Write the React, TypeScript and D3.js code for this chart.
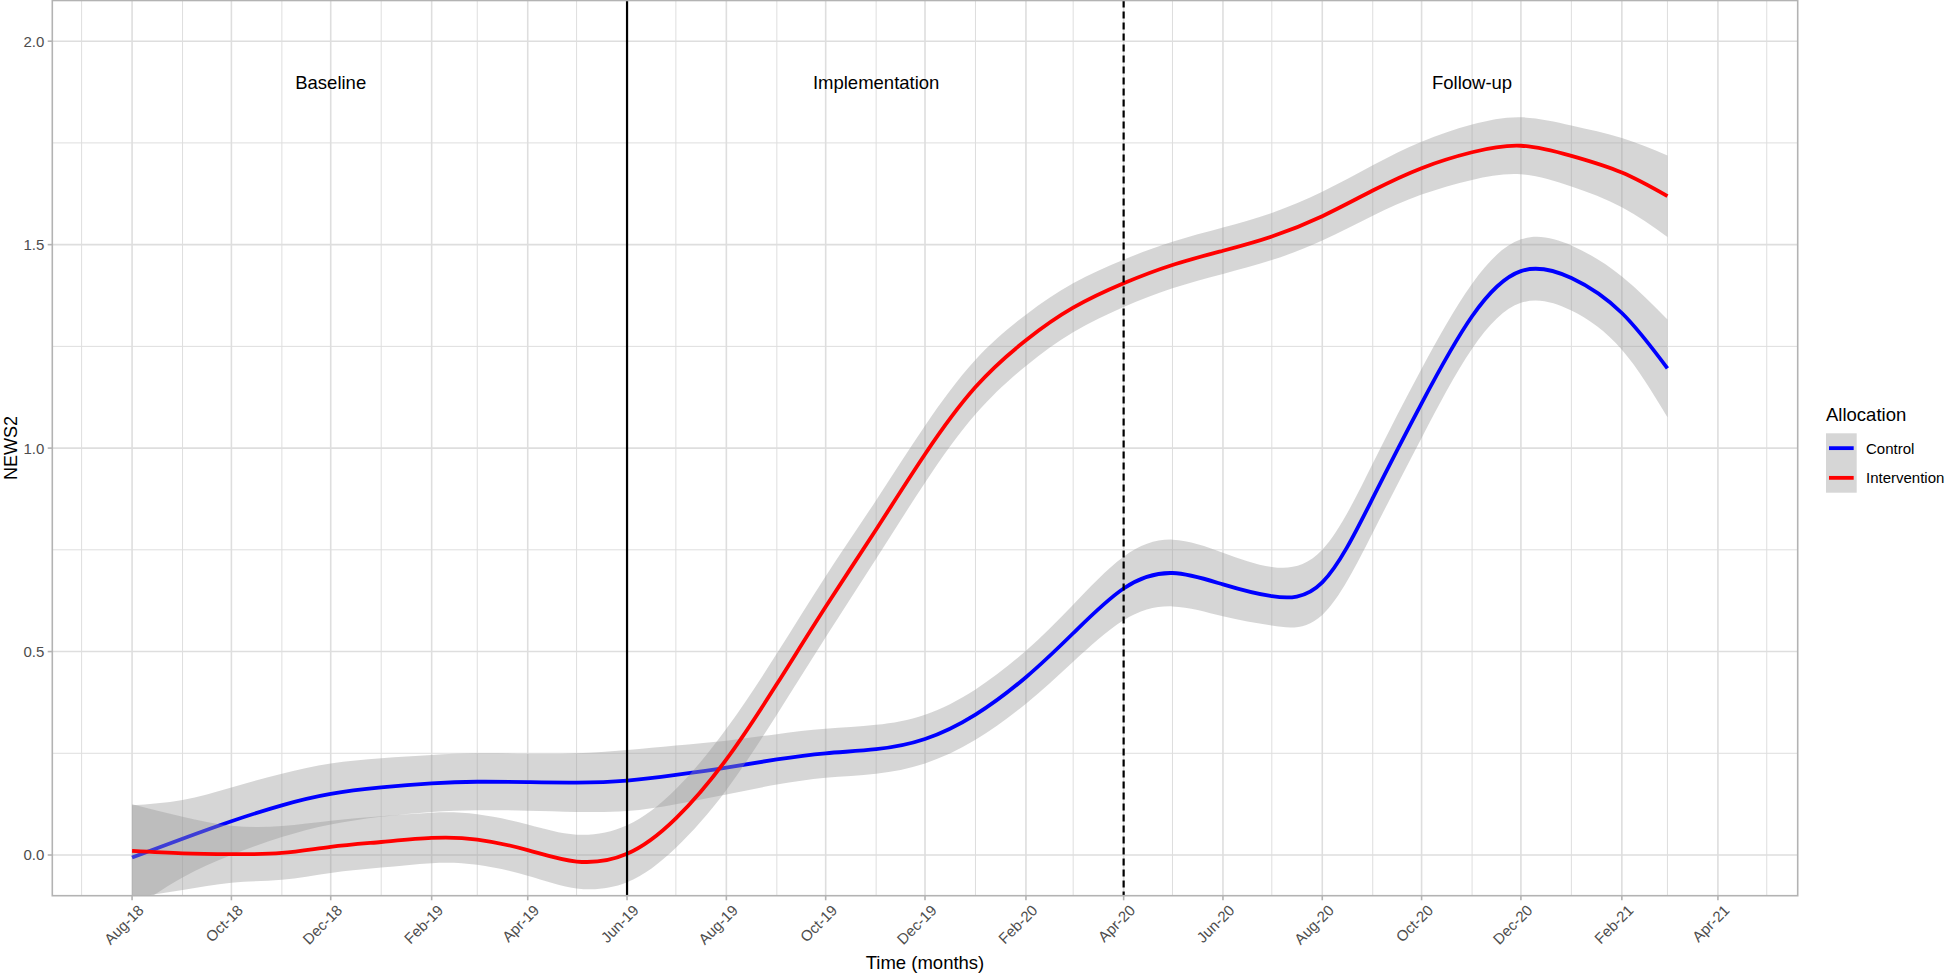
import { useEffect, useRef } from "react";
import * as d3 from "d3";

// monthly points of the smoothed curves (first day of each month)
const months = [
  "2018-08-01", "2018-09-01", "2018-10-01", "2018-11-01", "2018-12-01",
  "2019-01-01", "2019-02-01", "2019-03-01", "2019-04-01", "2019-05-01",
  "2019-06-01", "2019-07-01", "2019-08-01", "2019-09-01", "2019-10-01",
  "2019-11-01", "2019-12-01", "2020-01-01", "2020-02-01", "2020-03-01",
  "2020-04-01", "2020-05-01", "2020-06-01", "2020-07-01", "2020-08-01",
  "2020-09-01", "2020-10-01", "2020-11-01", "2020-12-01", "2021-01-01",
  "2021-02-01", "2021-03-01",
];

const control = [
  -0.006, 0.04, 0.083, 0.122, 0.15, 0.166, 0.176, 0.18, 0.179, 0.178,
  0.183, 0.197, 0.215, 0.235, 0.25, 0.26, 0.285, 0.345, 0.437, 0.545,
  0.655, 0.693, 0.665, 0.636, 0.67, 0.877, 1.11, 1.324, 1.435, 1.418,
  1.332, 1.196,
];
const controlBand = [
  0.128, 0.095, 0.083, 0.078, 0.075, 0.072, 0.07, 0.07, 0.07, 0.072,
  0.075, 0.072, 0.066, 0.062, 0.06, 0.06, 0.06, 0.062, 0.065, 0.07,
  0.078, 0.082, 0.078, 0.072, 0.08, 0.085, 0.085, 0.08, 0.078, 0.08,
  0.09, 0.12,
];

const intervention = [
  0.01, 0.004, 0.002, 0.005, 0.02, 0.032, 0.042, 0.038, 0.012, -0.016,
  0.003, 0.09, 0.235, 0.42, 0.61, 0.8, 0.985, 1.15, 1.265, 1.345,
  1.405, 1.45, 1.485, 1.52, 1.57, 1.633, 1.688, 1.727, 1.743, 1.718,
  1.677, 1.619,
];
const interventionBand = [
  0.115, 0.09, 0.07, 0.066, 0.064, 0.063, 0.062, 0.062, 0.063, 0.066,
  0.07, 0.072, 0.075, 0.075, 0.075, 0.072, 0.07, 0.067, 0.063, 0.06,
  0.058, 0.057, 0.057, 0.058, 0.06, 0.062, 0.065, 0.068, 0.07, 0.075,
  0.085, 0.1,
];

const phaseNames = ["Baseline", "Implementation", "Follow-up"];
const phaseCentres = ["2018-12-01", "2019-11-01", "2020-11-01"];
const phaseLabelY = 1.9;
const phaseStarts = ["2019-06-01", "2020-04-01"];

const yTicks = [0, 0.5, 1, 1.5, 2];
const yMinor = [0.25, 0.75, 1.25, 1.75];

const seriesNames = ["Control", "Intervention"];
const seriesColors = ["#0000ff", "#ff0000"];

const App = () => {
  const svgRef = useRef(null);

  useEffect(() => {
    const W = 1945;
    const H = 975;
    const left = 52.3;
    const right = 1797.7;
    const top = 0.5;
    const bottom = 895.7;

    const svg = d3.select(svgRef.current);
    svg.selectAll("*").remove();
    svg.attr("width", W).attr("height", H);

    const font = "'Liberation Sans', Arial, Helvetica, sans-serif";
    const parse = (s) => new Date(s + "T00:00:00Z");

    const x = d3
      .scaleUtc()
      .domain([new Date(Date.UTC(2018, 5, 13)), new Date(Date.UTC(2021, 4, 20))])
      .range([left, right]);
    const y = d3.scaleLinear().domain([-0.1, 2.1]).range([bottom, top]);

    const majorX = d3.utcMonth.range(new Date(Date.UTC(2018, 7, 1)), new Date(Date.UTC(2021, 4, 2)), 2);
    const minorX = d3.utcMonth.range(new Date(Date.UTC(2018, 6, 1)), new Date(Date.UTC(2021, 5, 2)), 2);

    svg.append("rect").attr("width", W).attr("height", H).attr("fill", "white");

    svg
      .append("clipPath")
      .attr("id", "panel-clip")
      .append("rect")
      .attr("x", left)
      .attr("y", top)
      .attr("width", right - left)
      .attr("height", bottom - top);

    // grid
    const grid = svg.append("g");
    grid
      .selectAll(".ymin")
      .data(yMinor)
      .enter()
      .append("line")
      .attr("x1", left)
      .attr("x2", right)
      .attr("y1", (d) => y(d))
      .attr("y2", (d) => y(d))
      .attr("stroke", "#dedede")
      .attr("stroke-width", 1);
    grid
      .selectAll(".xmin")
      .data(minorX)
      .enter()
      .append("line")
      .attr("x1", (d) => x(d))
      .attr("x2", (d) => x(d))
      .attr("y1", top)
      .attr("y2", bottom)
      .attr("stroke", "#dedede")
      .attr("stroke-width", 1);
    grid
      .selectAll(".ymaj")
      .data(yTicks)
      .enter()
      .append("line")
      .attr("x1", left)
      .attr("x2", right)
      .attr("y1", (d) => y(d))
      .attr("y2", (d) => y(d))
      .attr("stroke", "#dedede")
      .attr("stroke-width", 1.6);
    grid
      .selectAll(".xmaj")
      .data(majorX)
      .enter()
      .append("line")
      .attr("x1", (d) => x(d))
      .attr("x2", (d) => x(d))
      .attr("y1", top)
      .attr("y2", bottom)
      .attr("stroke", "#dedede")
      .attr("stroke-width", 1.6);

    // smooths: ribbon then line for each group
    const plot = svg.append("g").attr("clip-path", "url(#panel-clip)");
    const groups = [
      { values: control, band: controlBand },
      { values: intervention, band: interventionBand },
    ];
    groups.forEach((g, gi) => {
      const rows = months.map((m, i) => ({ date: parse(m), v: g.values[i], se: g.band[i] }));
      const area = d3
        .area()
        .x((d) => x(d.date))
        .y0((d) => y(d.v - d.se))
        .y1((d) => y(d.v + d.se))
        .curve(d3.curveNatural);
      const line = d3
        .line()
        .x((d) => x(d.date))
        .y((d) => y(d.v))
        .curve(d3.curveNatural);
      plot.append("path").attr("d", area(rows)).attr("fill", "#999999").attr("fill-opacity", 0.4);
      plot
        .append("path")
        .attr("d", line(rows))
        .attr("fill", "none")
        .attr("stroke", seriesColors[gi])
        .attr("stroke-width", 3.8);
    });

    // phase boundaries
    plot
      .selectAll(".vline")
      .data(phaseStarts)
      .enter()
      .append("line")
      .attr("x1", (d) => x(parse(d)))
      .attr("x2", (d) => x(parse(d)))
      .attr("y1", top)
      .attr("y2", bottom)
      .attr("stroke", "black")
      .attr("stroke-width", 2.2)
      .attr("stroke-dasharray", (d, i) => (i === 1 ? "7,4" : null));

    // phase labels
    svg
      .selectAll(".phase")
      .data(phaseNames)
      .enter()
      .append("text")
      .attr("x", (d, i) => x(parse(phaseCentres[i])))
      .attr("y", y(phaseLabelY))
      .attr("dy", "0.36em")
      .attr("text-anchor", "middle")
      .attr("font-family", font)
      .attr("font-size", 18.5)
      .attr("fill", "black")
      .text((d) => d);

    // panel border
    svg
      .append("rect")
      .attr("x", left)
      .attr("y", top)
      .attr("width", right - left)
      .attr("height", bottom - top)
      .attr("fill", "none")
      .attr("stroke", "#b3b3b3")
      .attr("stroke-width", 1.6);

    // y axis
    const yAxis = svg.append("g");
    yAxis
      .selectAll(".ytick")
      .data(yTicks)
      .enter()
      .append("line")
      .attr("x1", left - 4.6)
      .attr("x2", left)
      .attr("y1", (d) => y(d))
      .attr("y2", (d) => y(d))
      .attr("stroke", "#b3b3b3")
      .attr("stroke-width", 1.6);
    yAxis
      .selectAll(".ylab")
      .data(yTicks)
      .enter()
      .append("text")
      .attr("x", left - 8)
      .attr("y", (d) => y(d))
      .attr("dy", "0.36em")
      .attr("text-anchor", "end")
      .attr("font-family", font)
      .attr("font-size", 15)
      .attr("fill", "#4d4d4d")
      .text((d) => d3.format(".1f")(d));

    // x axis
    const xAxis = svg.append("g");
    xAxis
      .selectAll(".xtick")
      .data(majorX)
      .enter()
      .append("line")
      .attr("x1", (d) => x(d))
      .attr("x2", (d) => x(d))
      .attr("y1", bottom)
      .attr("y2", bottom + 4.6)
      .attr("stroke", "#b3b3b3")
      .attr("stroke-width", 1.6);
    xAxis
      .selectAll(".xlab")
      .data(majorX)
      .enter()
      .append("text")
      .attr("transform", (d) => `translate(${x(d) + 5},${bottom + 8}) rotate(-45)`)
      .attr("dy", "0.71em")
      .attr("text-anchor", "end")
      .attr("font-family", font)
      .attr("font-size", 15)
      .attr("fill", "#4d4d4d")
      .text((d) => d3.utcFormat("%b-%y")(d));

    // axis titles
    svg
      .append("text")
      .attr("x", (left + right) / 2)
      .attr("y", 969)
      .attr("text-anchor", "middle")
      .attr("font-family", font)
      .attr("font-size", 18.5)
      .attr("fill", "black")
      .text("Time (months)");
    svg
      .append("text")
      .attr("transform", `translate(17,${(top + bottom) / 2}) rotate(-90)`)
      .attr("text-anchor", "middle")
      .attr("font-family", font)
      .attr("font-size", 18)
      .attr("fill", "black")
      .text("NEWS2");

    // legend
    const legend = svg.append("g").attr("transform", "translate(1826,0)");
    legend
      .append("text")
      .attr("x", 0)
      .attr("y", 421)
      .attr("font-family", font)
      .attr("font-size", 18.5)
      .attr("fill", "black")
      .text("Allocation");
    const keyH = 29.7;
    const keyTop = 433.3;
    seriesNames.forEach((name, i) => {
      const ky = keyTop + i * keyH;
      legend
        .append("rect")
        .attr("x", 0)
        .attr("y", ky)
        .attr("width", 30.7)
        .attr("height", keyH)
        .attr("fill", "#999999")
        .attr("fill-opacity", 0.4);
      legend
        .append("line")
        .attr("x1", 3)
        .attr("x2", 27.7)
        .attr("y1", ky + keyH / 2)
        .attr("y2", ky + keyH / 2)
        .attr("stroke", seriesColors[i])
        .attr("stroke-width", 3.8);
      legend
        .append("text")
        .attr("x", 40)
        .attr("y", ky + keyH / 2)
        .attr("dy", "0.36em")
        .attr("font-family", font)
        .attr("font-size", 15)
        .attr("fill", "black")
        .text(name);
    });
  }, []);

  return (
    <div>
      <svg ref={svgRef} style={{ position: "absolute", left: 0, top: 0 }}></svg>
    </div>
  );
};

export default App;
